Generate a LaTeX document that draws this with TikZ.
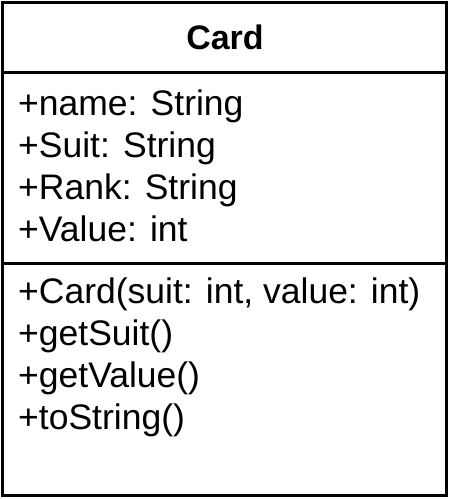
\documentclass[tikz,border=0pt]{standalone}
\usepackage{fontspec}
\setmainfont{Liberation Sans}
\begin{document}
\begin{tikzpicture}[x=1pt,y=-1pt,
  frame/.style={line width=3pt},
  member/.style={anchor=base west,inner sep=0pt,font=\fontsize{35.5}{42}\selectfont},
  title/.style={inner sep=0pt,font=\fontsize{34}{40}\selectfont\bfseries}]
  \useasboundingbox (0,0) rectangle (451,499);
  % class box and compartments
  \draw[frame] (2.5,2.5) rectangle (446.5,495.5);
  \coordinate (h1l) at (2.5,72);
  \coordinate (h1r) at (446.5,72);
  \coordinate (h2l) at (2.5,263);
  \coordinate (h2r) at (446.5,263);
  \draw[frame] (h1l) -- (h1r);
  \draw[frame] (h2l) -- (h2r);
  % class name
  \node[title,anchor=base] (name) at (225,49) {Card};
  % attributes
  \node[member] (a1) at (18,115.5) {+name: String};
  \node[member] (a2) at (18,157.5) {+Suit: String};
  \node[member] (a3) at (18,199.5) {+Rank: String};
  \node[member] (a4) at (18,241.5) {+Value: int};
  % operations
  \node[member] (m1) at (18,303) {+Card(suit: int, value: int)};
  \node[member] (m2) at (18,345) {+getSuit()};
  \node[member] (m3) at (18,387) {+getValue()};
  \node[member] (m4) at (18,429) {+toString()};
\end{tikzpicture}
\end{document}
